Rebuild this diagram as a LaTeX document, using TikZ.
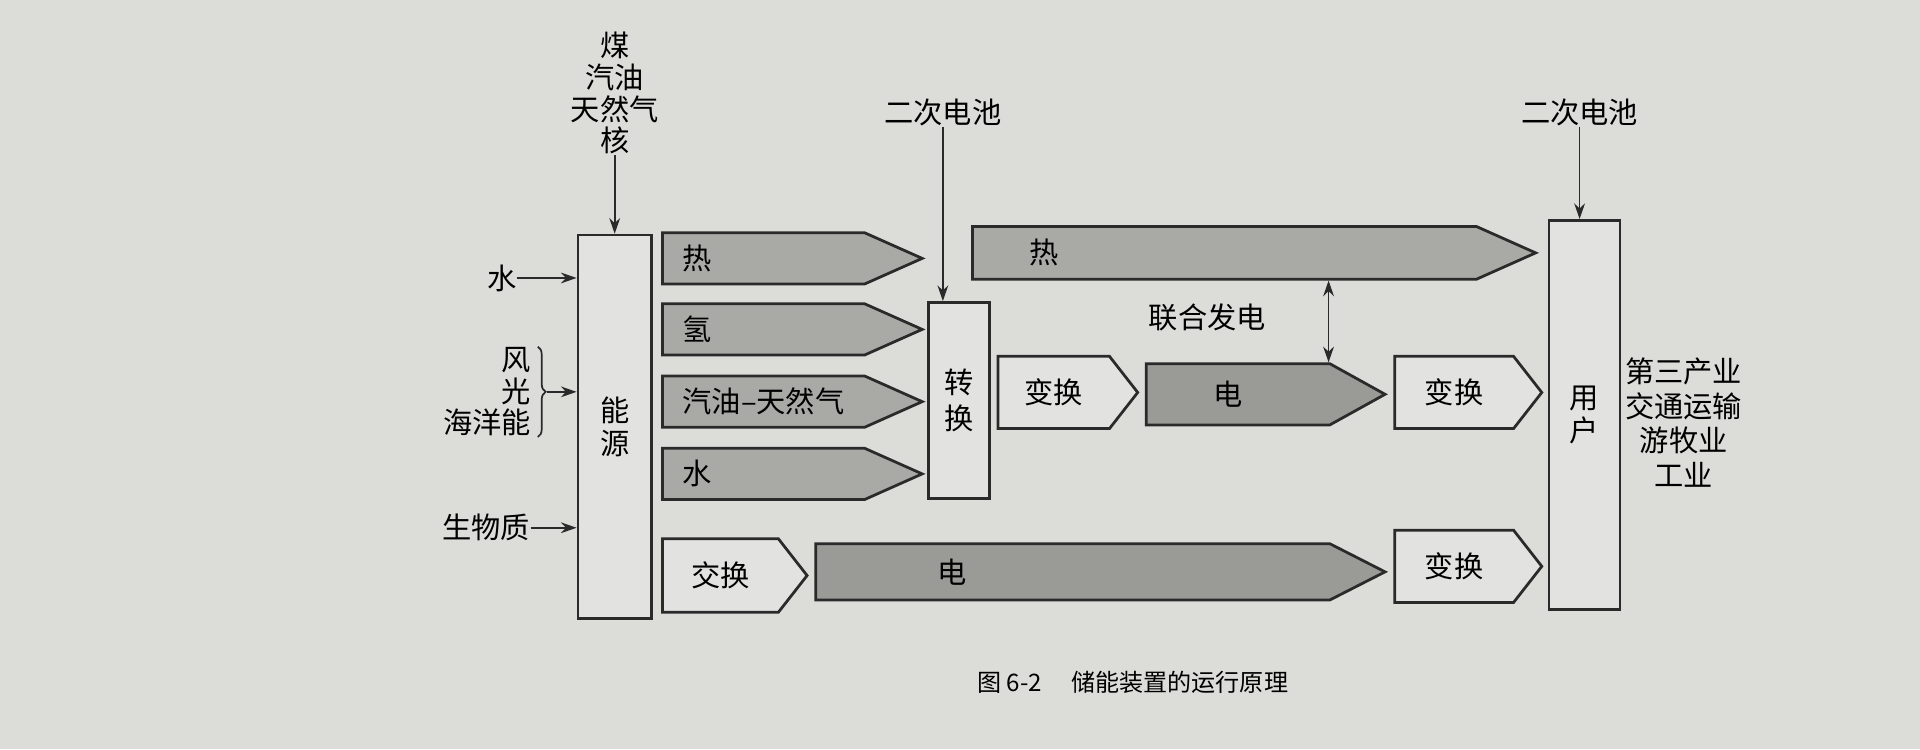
\documentclass[tikz,border=0pt]{standalone}
\usepackage{fontspec}
\setmainfont{Noto Sans CJK SC}
\usetikzlibrary{positioning, arrows.meta, shapes.symbols, decorations.pathreplacing}
\definecolor{pagebg}{HTML}{DCDCD9}
\definecolor{boxfill}{HTML}{E2E2E0}
\definecolor{flowfill}{HTML}{A9A9A6}
\definecolor{elecfill}{HTML}{9A9A97}
\definecolor{inkline}{HTML}{2A2A2A}

\begin{document}
\begin{tikzpicture}[
        x=0.125mm, y=-0.125mm,
        font=\fontsize{8.5}{10}\selectfont,
        >={Stealth[length=1.6mm, width=1.1mm]},
        sz/.style 2 args={minimum width=#1*0.125mm, minimum height=#2*0.125mm},
        box/.style={rectangle, draw=inkline, line width=0.8pt, fill=boxfill, inner sep=0pt, align=center},
        flow/.style={signal, signal to=east, signal from=nowhere, anchor=west, draw=inkline, line width=0.8pt, fill=flowfill, inner sep=0pt, signal pointer angle=48},
        elec/.style={flow, fill=elecfill},
        conv/.style={flow, fill=boxfill, signal pointer angle=104},
        tag/.style={inner sep=0pt, align=center},
        arrow/.style={->, line width=0.5pt, draw=inkline}
    ]
        % page
        \fill[pagebg] (0,0) rectangle (1568,612);

        % Energy sources
        \node[box, sz={60}{313}, font=\fontsize{8.5}{9.6}\selectfont] (energy) at (502,348.5) {能\\源};
        \node[tag, font=\fontsize{8.5}{9.2}\selectfont] (fuel) at (502,76) {煤\\汽油\\天然气\\核};
        \node[tag] (water) at (410,227) {水};
        \node[tag, align=right, font=\fontsize{8.5}{9.2}\selectfont] (wind) at (398,320) {风\\光\\海洋能};
        \node[tag] (bio) at (397,431) {生物质};

        % Storage flows
        \node[flow, sz={212}{42}, label={[tag, anchor=west, xshift=2.1mm]west:热}] (heat) at (540,211) {};
        \node[flow, sz={212}{42}, label={[tag, anchor=west, xshift=2.1mm]west:氢}] (hydro) at (540,269) {};
        \node[flow, sz={212}{42}, label={[tag, anchor=west, xshift=2.1mm]west:汽油–天然气}] (gas) at (540,328) {};
        \node[flow, sz={212}{42}, label={[tag, anchor=west, xshift=2.1mm]west:水}] (hydraulic) at (540,387) {};
        \node[box, sz={50}{160}, font=\fontsize{8.5}{10.3}\selectfont] (convert) at (783,327) {转\\换};
        \node[tag] (bat1) at (770,92) {二次电池};

        % Conversion to users
        \node[flow, sz={460}{43}, label={[tag, anchor=west, xshift=5.9mm]west:热}] (heatbig) at (793,206.5) {};
        \node[tag] (cogen) at (986,259) {联合发电};
        \node[conv, sz={114}{59}] (trans1) at (814,320.5) {变换};
        \node[elec, sz={195}{50}, signal pointer angle=58, label={[tag, anchor=west, xshift=6.9mm]west:电}] (elec) at (935,322) {};
        \node[conv, sz={120}{59}] (trans2) at (1138,320.5) {变换};

        % Direct exchange
        \node[conv, sz={118}{60}] (exchange) at (540,470) {交换};
        \node[elec, sz={465}{46}, signal pointer angle=54, label={[tag, anchor=west, xshift=12.5mm]west:电}] (elec2) at (665,467) {};
        \node[conv, sz={120}{59}] (trans3) at (1138,462.5) {变换};

        % Users
        \node[box, sz={58}{318}, font=\fontsize{8.5}{9.4}\selectfont] (user) at (1294,339) {用\\户};
        \node[tag] (bat2) at (1290,92) {二次电池};
        \node[tag, font=\fontsize{8.5}{10.1}\selectfont] (sectors) at (1375,345) {第三产业\\交通运输\\游牧业\\工业};

        % Caption
        \node[tag, font=\fontsize{7}{8}\selectfont] (caption) at (925,557) {图 6-2\hspace{3mm}储能装置的运行原理};

        % Arrows
        \draw[arrow] (fuel.south) -- (energy.north);
        \draw[arrow] (water.east) -- (water -| energy.west);
        \draw[line width=0.5pt, draw=inkline, decorate, decoration={brace, amplitude=0.8mm}]
            ([xshift=0.6mm]wind.north east) -- ([xshift=0.6mm]wind.south east);
        \draw[arrow] ([xshift=1.5mm]wind.east) -- (wind.east -| energy.west);
        \draw[arrow] (bio.east) -- (bio -| energy.west);
        \draw[arrow] (bat1.south) -- (bat1.south |- convert.north);
        \draw[arrow] (bat2.south) -- (bat2.south |- user.north);
        \coordinate (chp) at (1085,0);
        \draw[arrow, <->] (chp |- heatbig.south) -- (chp |- elec.north);
    \end{tikzpicture}
\end{document}
